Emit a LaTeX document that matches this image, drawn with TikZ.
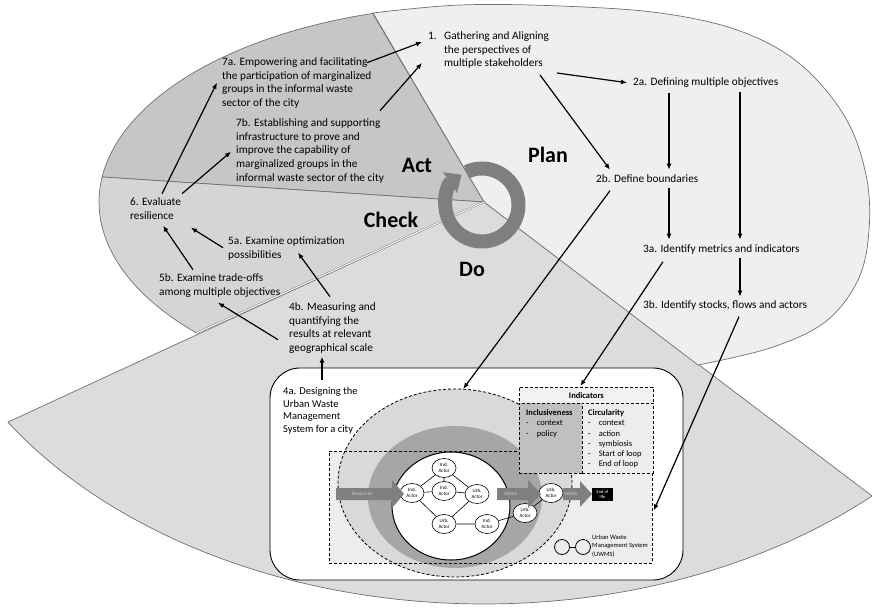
\documentclass[tikz,border=0pt]{standalone}
\usepackage{fontspec}
\setmainfont{Carlito}
\usetikzlibrary{arrows.meta,shapes}

\definecolor{planfill}{HTML}{EFEFEF}
\definecolor{actfill}{HTML}{C6C6C6}
\definecolor{checkfill}{HTML}{D5D5D5}
\definecolor{dofill}{HTML}{DCDCDC}
\definecolor{edgegray}{HTML}{707070}
\definecolor{cyclegray}{HTML}{7F7F7F}
\definecolor{zonefill}{HTML}{D9D9D9}
\definecolor{ringfill}{HTML}{A6A6A6}
\definecolor{boxfill}{HTML}{EDEDED}
\definecolor{inclfill}{HTML}{C0C0C0}
\definecolor{flowgray}{HTML}{808080}

\tikzset{
  sector/.style={draw=edgegray, line width=0.7pt},
  stage/.style={align=left, inner sep=0pt, anchor=north west, font=\fontsize{11.3}{13.6}\selectfont},
  phase/.style={font=\fontsize{22}{26}\selectfont\bfseries},
  link/.style={-{Latex[length=6pt,width=5pt]}, line width=1.2pt},
  dashbox/.style={draw, dash pattern=on 3pt off 2pt, line width=0.8pt},
  actor/.style={ellipse, draw, fill=white, line width=0.6pt, minimum width=24, minimum height=19, inner sep=0pt, align=center, font=\fontsize{5}{5.5}\selectfont},
  flowtext/.style={inner sep=0pt, text=white!80!black, font=\fontsize{5}{6}\selectfont},
  indtext/.style={inner sep=0pt, anchor=north west, font=\fontsize{8.5}{10.3}\selectfont}
}

\begin{document}
\begin{tikzpicture}[x=1pt, y=-1pt]
\useasboundingbox (0,0) rectangle (872,615);
\coordinate (C) at (484,202);

% PDCA sectors
\filldraw[sector, fill=dofill] (C) -- ++(146.8:569 and 402) arc[start angle=146.8, end angle=47, x radius=569, y radius=402] -- cycle;
\filldraw[sector, fill=planfill] (C) -- plot[smooth, tension=0.6] coordinates {(373,13) (460,5) (560,6) (660,13) (740,31) (800,64) (845,117) (866,175) (869,230) (858,280) (825,322) (770,348) (698,365)} -- cycle;
\filldraw[sector, fill=actfill] (C) -- ++(253.2:385 and 197) arc[start angle=253.2, end angle=187.3, x radius=385, y radius=197] -- cycle;
\filldraw[sector, fill=checkfill] (C) -- ++(187.3:385 and 197) arc[start angle=187.3, end angle=138.3, x radius=385, y radius=197] -- cycle;
\draw[edgegray, double=white, double distance=1pt] (C) -- ++(138.3:385 and 197);

\draw[cyclegray, line width=14pt, -{Triangle[length=14pt,width=24pt]}] (482,205) ++(-115:36.5) arc[start angle=-115, end angle=236, radius=36.5];

\node[phase] (act) at (417,165) {Act};
\node[phase] (plan) at (548,155) {Plan};
\node[phase] (check) at (391,220) {Check};
\node[phase] (do) at (472,269) {Do};

% steps
\node[stage] (s1) at (428,30) {\begin{tabular}{@{}l@{\hspace{7.4pt}}l@{}}1. & Gathering and Aligning\\ & the perspectives of\\ & multiple stakeholders\end{tabular}};
\node[stage] (s2a) at (633,77.7) {2a. Defining multiple objectives};
\node[stage] (s2b) at (596,174.7) {2b. Define boundaries};
\node[stage] (s3a) at (643,244.7) {3a. Identify metrics and indicators};
\node[stage] (s3b) at (643,300.7) {3b. Identify stocks, flows and actors};
\node[stage] (s4b) at (289,302.7) {4b. Measuring and\\quantifying the\\results at relevant\\geographical scale};
\node[stage] (s5a) at (228,236.7) {5a. Examine optimization\\possibilities};
\node[stage] (s5b) at (159,273.7) {5b. Examine trade-offs\\among multiple objectives};
\node[stage] (s6) at (130,197.7) {6. Evaluate\\resilience};
\node[stage] (s7a) at (222,57.7) {7a. Empowering and facilitating\\the participation of marginalized\\groups in the informal waste\\sector of the city};
\node[stage] (s7b) at (236,118.7) {7b. Establishing and supporting\\infrastructure to prove and\\improve the capability of\\marginalized groups in the\\informal waste sector of the city};

% urban waste management system
\draw[fill=white, line width=0.9pt, rounded corners=30] (270,368) rectangle (683,580);
\node[stage, font=\fontsize{10.5}{12.6}\selectfont] (s4a) at (283,387) {4a. Designing the\\Urban Waste\\Management\\System for a city};
\fill[boxfill] (329,451) rectangle (652,563);
\node[ellipse, dashbox, fill=zonefill, minimum width=234, minimum height=188, inner sep=0pt] (urban) at (455,483) {};
\fill[ringfill] (455,497) ellipse[x radius=87, y radius=71];
\node[ellipse, draw, fill=white, line width=1pt, minimum width=118, minimum height=108, inner sep=0pt] (core) at (451,506) {};
\node[dashbox, minimum width=323, minimum height=112, inner sep=0pt, anchor=north west] (uwmsbox) at (329,451) {};

\node[actor] (a1) at (444,468) {Ind.\\Actor};
\node[actor] (a2) at (412,493) {Ind.\\Actor};
\node[actor] (a3) at (444,491) {Ind.\\Actor};
\node[actor] (a4) at (477,494) {Urb.\\Actor};
\node[actor] (a5) at (444,524) {Urb.\\Actor};
\node[actor] (a6) at (487,524) {Ind.\\Actor};
\node[actor] (a7) at (525,513) {Urb.\\Actor};
\node[actor] (a8) at (551,493) {Urb.\\Actor};
\draw[line width=0.6pt] (a1) -- (a2) (a1) -- (a3) (a1) -- (a4) (a2) -- (a3) (a3) -- (a4)
  (a2) -- (a5) (a4) -- (a5) (a5) -- (a6) (a6) -- (a7) (a7) -- (a8);

\fill[flowgray] (336,488) -- (392,488) -- (392,480) -- (404,494) -- (392,508) -- (392,500) -- (336,500) -- cycle;
\node[flowtext] (res) at (362,494) {Resources};
\fill[flowgray] (497,488) -- (528,488) -- (528,480) -- (541,494) -- (528,508) -- (528,500) -- (497,500) -- cycle;
\node[flowtext] (waste1) at (511,494) {Waste};
\fill[flowgray] (563,488) -- (580,488) -- (580,481) -- (592,494) -- (580,507) -- (580,500) -- (563,500) -- cycle;
\node[flowtext] (waste2) at (571,494) {Waste};
\node[fill=black, text=white, minimum width=21, minimum height=13, inner sep=0pt, align=center, font=\fontsize{4.5}{5}\selectfont] (eol) at (602.5,494.5) {End of\\life};

\node[circle, draw, line width=0.8pt, minimum size=15, inner sep=0pt] (leg1) at (562,547) {};
\node[circle, draw, line width=0.8pt, minimum size=15, inner sep=0pt] (leg2) at (583,547) {};
\draw[line width=0.8pt] (leg1) -- (leg2);
\node[align=left, anchor=west, inner sep=0pt, font=\fontsize{6.5}{8.5}\selectfont] (legtext) at (592,546) {Urban Waste\\Management System\\(UWMS)};

% indicators
\node[dashbox, fill=white!95!black, minimum width=134, minimum height=16, inner sep=0pt, anchor=north west, font=\fontsize{8.5}{9}\selectfont\bfseries] (indhead) at (519,387) {Indicators};
\node[dashbox, fill=inclfill, minimum width=63, minimum height=70, inner sep=0pt, anchor=north west] (incl) at (519,403) {};
\node[dashbox, fill=boxfill, minimum width=71, minimum height=70, inner sep=0pt, anchor=north west] (circ) at (582,403) {};
\node[indtext] (incltext) at (526,408) {\begin{tabular}{@{}l@{\hspace{8pt}}l@{}}\multicolumn{2}{@{}l@{}}{\textbf{Inclusiveness}}\\- & context\\- & policy\end{tabular}};
\node[indtext] (circtext) at (588,408) {\begin{tabular}{@{}l@{\hspace{8pt}}l@{}}\multicolumn{2}{@{}l@{}}{\textbf{Circularity}}\\- & context\\- & action\\- & symbiosis\\- & Start of loop\\- & End of loop\end{tabular}};

% connectors
\draw[link] ([shift={(145,5)}]s7a.north west) -- ([shift={(-6,12)}]s1.north west);
\draw[link] ([shift={(144,-8)}]s7b.north west) -- ([shift={(-6,33)}]s1.north west);
\draw[link] ([shift={(32,-4)}]s6.north west) -- ([shift={(-5,25)}]s7a.north west);
\draw[link] ([shift={(52,-4)}]s6.north west) -- ([shift={(-5,33)}]s7b.north west);
\draw[link] ([shift={(129,43)}]s1.north west) -- ([shift={(-6,5)}]s2a.north west);
\draw[link] ([shift={(112,45)}]s1.north west) -- ([shift={(14,-5)}]s2b.north west);
\draw[link] ([shift={(36,15)}]s2a.north west) -- ([shift={(73,-5)}]s2b.north west);
\draw[link] ([shift={(107,14)}]s2a.north west) -- ([shift={(97,-5)}]s3a.north west);
\draw[link] ([shift={(73,13)}]s2b.north west) -- ([shift={(26,-5)}]s3a.north west);
\draw[link] ([shift={(97,13)}]s3a.north west) -- ([shift={(97,-4)}]s3b.north west);
\draw[link] ([shift={(14,16)}]s2b.north west) -- (urban.85);
\draw[link] ([shift={(20,17)}]s3a.north west) -- ([shift={(-6,-1)}]indhead.north);
\draw[link] ([shift={(96,16)}]s3b.north west) -- ([shift={(1,3)}]uwmsbox.east);
\draw[link] ([shift={(-5,11)}]s5a.north west) -- ([shift={(61,30)}]s6.north west);
\draw[link] ([shift={(34,-4)}]s5b.north west) -- ([shift={(33,28)}]s6.north west);
\draw[link] ([shift={(41,-6)}]s4b.north west) -- ([shift={(70,16)}]s5a.north west);
\draw[link] ([shift={(-11,37)}]s4b.north west) -- ([shift={(59,29)}]s5b.north west);
\draw[link] ([shift={(39,-7)}]s4a.north west) -- ([shift={(33,54)}]s4b.north west);
\end{tikzpicture}
\end{document}
